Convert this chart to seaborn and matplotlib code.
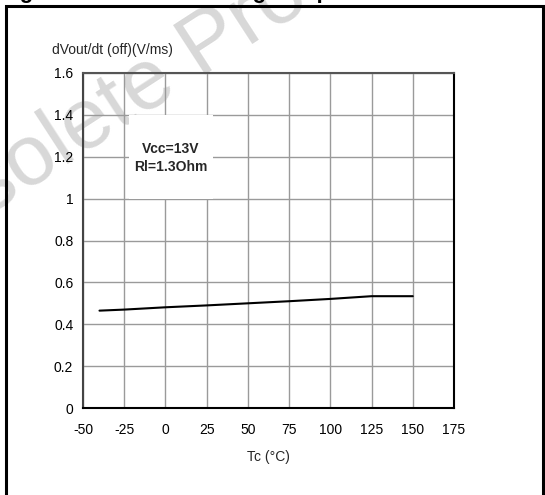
import matplotlib
matplotlib.use('Agg')
import matplotlib.pyplot as plt
import matplotlib.patches as patches
import seaborn as sns
import pandas as pd

# Data
tc = [-40, -25, 0, 25, 50, 75, 100, 125, 150]
slope = [0.465, 0.47, 0.481, 0.49, 0.50, 0.51, 0.521, 0.534, 0.534]
x_ticks = [-50, -25, 0, 25, 50, 75, 100, 125, 150, 175]
y_ticks = [0, 0.2, 0.4, 0.6, 0.8, 1.0, 1.2, 1.4, 1.6]
y_tick_labels = ['0', '0.2', '0.4', '0.6', '0.8', '1', '1.2', '1.4', '1.6']

df = pd.DataFrame({'Tc': tc, 'slope': slope})

sns.set_theme(style='white')
plt.rcParams['font.family'] = ['Liberation Sans', 'DejaVu Sans']

fig = plt.figure(figsize=(5.45, 4.95), dpi=100)
ax = fig.add_axes([83 / 545, 1 - 408 / 495, (454 - 83) / 545, (408 - 73) / 495])
ax.patch.set_alpha(0)

# watermark behind the chart
fig.text(0.29, 0.84, 'Obsolete Product', fontsize=62, color='#d8d8d8',
         rotation=33, ha='center', va='center', zorder=-5)

# title of the figure, only its descenders show at the top edge
fig.text(0.0, 1.0 + 2 / 495, 'Figure 16. Turn-off voltage slope', fontsize=16,
         fontweight='bold', ha='left', va='baseline', color='black')

# outer frame
fig.patches.append(patches.Rectangle((6 / 545, -0.05), (543 - 6) / 545, 1.05 - 6 / 495,
                                     transform=fig.transFigure, fill=False,
                                     edgecolor='black', linewidth=2.2))

sns.lineplot(data=df, x='Tc', y='slope', color='black', linewidth=1.5, ax=ax)

ax.set_xlim(-50, 175)
ax.set_ylim(0, 1.6)
ax.set_xticks(x_ticks)
ax.set_xticklabels([str(t) for t in x_ticks])
ax.set_yticks(y_ticks)
ax.set_yticklabels(y_tick_labels)
ax.tick_params(axis='both', labelsize=10, length=0, colors='black')
ax.tick_params(axis='x', pad=11)
ax.tick_params(axis='y', pad=7)
ax.grid(True, color='#9a9a9a', linewidth=1)
for s in ax.spines.values():
    s.set_color('black')
    s.set_linewidth(1.5)
ax.spines['left'].set_color('#444444')
ax.spines['top'].set_color('#555555')

ax.set_xlabel('Tc (°C)', fontsize=10, labelpad=9)
ax.set_ylabel('')
fig.text(52 / 545, 1 - 50 / 495, 'dVout/dt (off)(V/ms)', fontsize=10,
         ha='left', va='center')

# white legend box covering the grid
ax.add_patch(patches.Rectangle((-22, 1.0), 51, 0.4, facecolor='white',
                               edgecolor='none', zorder=2))
ax.text(3, 1.195, 'Vcc=13V\nRl=1.3Ohm', fontsize=10, fontweight='bold',
        ha='center', va='center', linespacing=1.4, zorder=3)

fig.savefig('out.png', dpi=100)
